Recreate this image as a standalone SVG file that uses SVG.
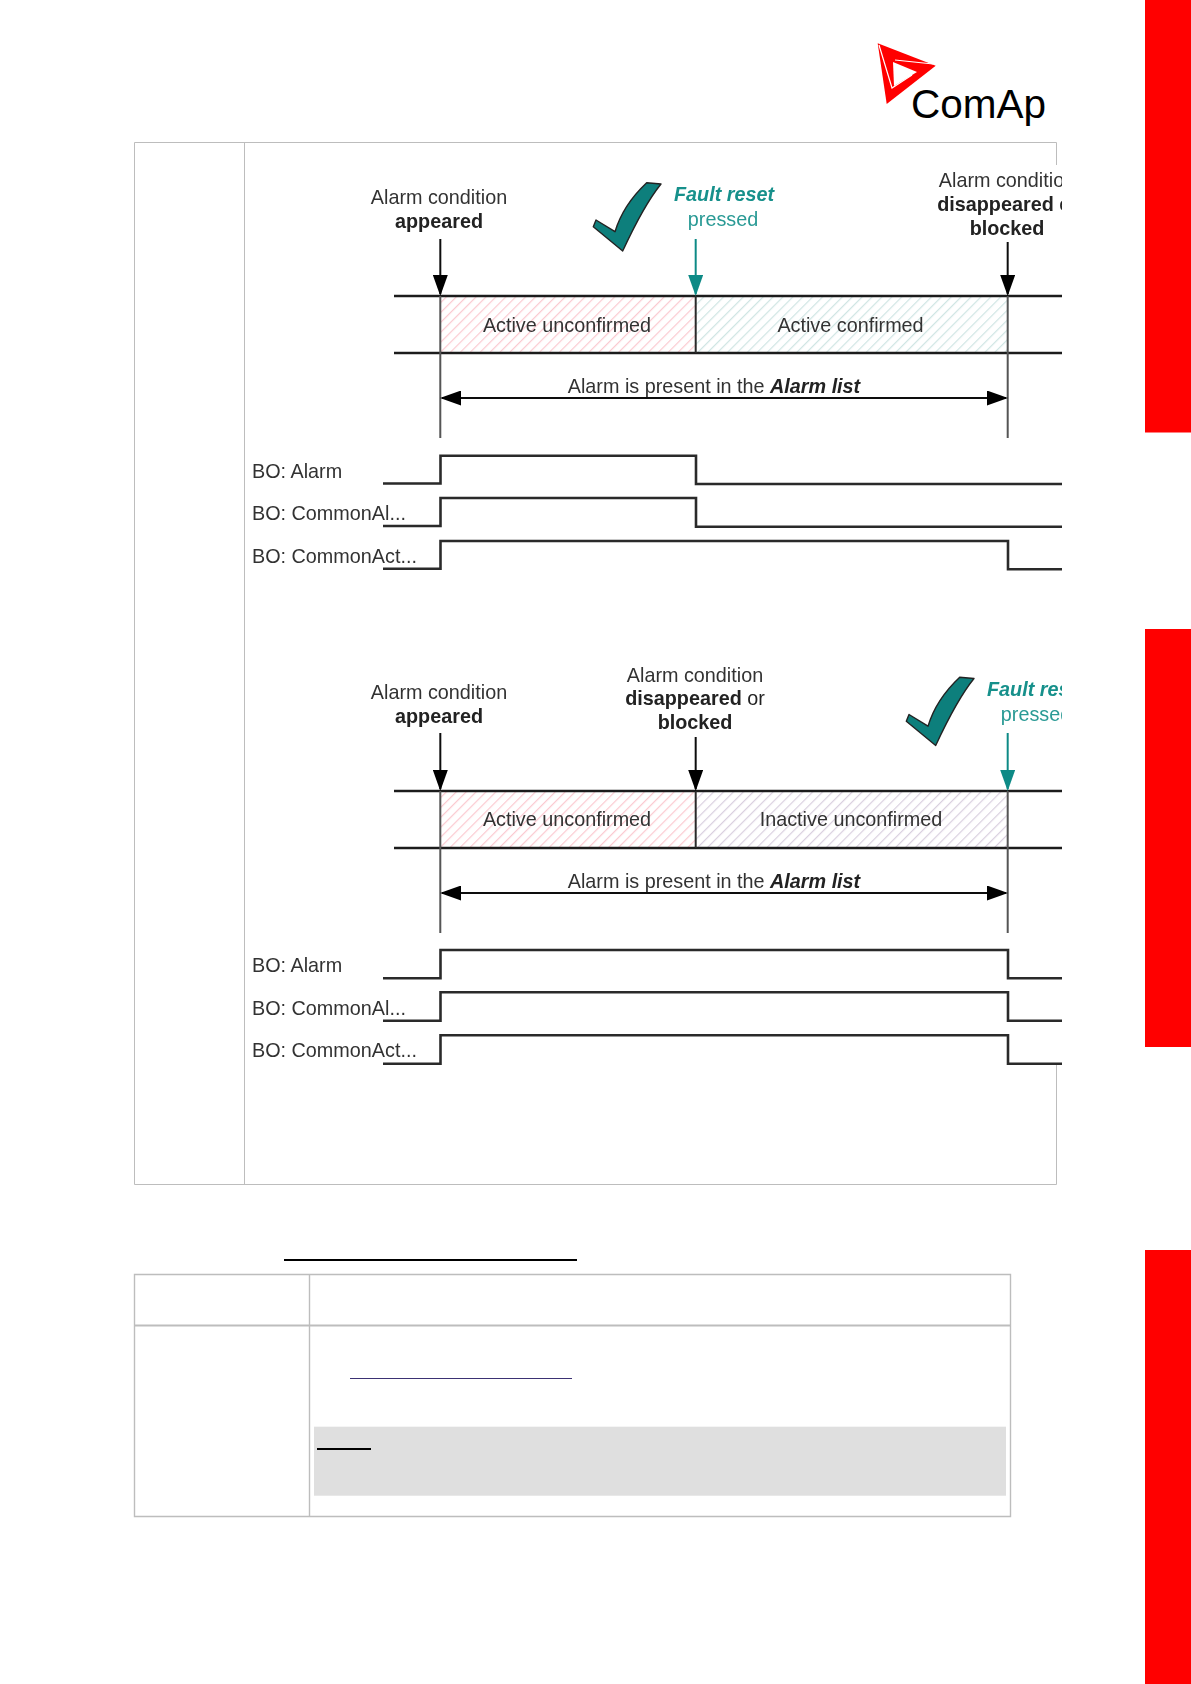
<svg xmlns="http://www.w3.org/2000/svg" width="1191" height="1684" viewBox="0 0 1191 1684">
<style>
.t{font-family:"Liberation Sans",Arial,sans-serif;font-size:19.8px;fill:#333;text-anchor:middle}
.l{text-anchor:start}
.b{font-weight:bold;fill:#222}
.bi{font-weight:bold;font-style:italic;fill:#222}
.tl{fill:#2a9a95}
.tb{font-weight:bold;font-style:italic;fill:#16908b}
.tab{fill:none;stroke:#bdbdbd;stroke-width:1}
.h{fill:none;stroke:#1c1c1c;stroke-width:2.6}
.g{fill:none;stroke:#555;stroke-width:2}
.d{fill:none;stroke:#2a2a2a;stroke-width:2}
.a{fill:none;stroke:#111;stroke-width:2;marker-end:url(#ab)}
.at{fill:none;stroke:#0f8a86;stroke-width:2;marker-end:url(#at)}
.da{fill:none;stroke:#111;stroke-width:2;marker-start:url(#ah);marker-end:url(#ah)}
.s{fill:none;stroke:#2a2a2a;stroke-width:2.6}
.red{fill:#f00}
.ck{fill:#0f7f7c;stroke:#222;stroke-width:1.4;stroke-linejoin:round}
</style>
<defs>
<marker id="ab" markerUnits="userSpaceOnUse" markerWidth="15" markerHeight="21" viewBox="0 0 15 21" refX="7.5" refY="19" orient="0"><path d="M0 0H15L7.5 21Z" fill="#000"/></marker>
<marker id="at" markerUnits="userSpaceOnUse" markerWidth="15" markerHeight="21" viewBox="0 0 15 21" refX="7.5" refY="19" orient="0"><path d="M0 0H15L7.5 21Z" fill="#0f8a86"/></marker>
<marker id="ah" markerUnits="userSpaceOnUse" markerWidth="21" markerHeight="15" viewBox="0 0 21 15" refX="19" refY="7.5" orient="auto-start-reverse"><path d="M0 0L21 7.5L0 15Z" fill="#000"/></marker>
<pattern id="hr" width="7" height="7" patternUnits="userSpaceOnUse" patternTransform="rotate(45)"><rect width="7" height="7" fill="#fff"/><rect width="1.2" height="7" fill="#fbc9d0"/></pattern>
<pattern id="ht" width="7" height="7" patternUnits="userSpaceOnUse" patternTransform="rotate(45)"><rect width="7" height="7" fill="#fff"/><rect width="1.2" height="7" fill="#cfe5e3"/></pattern>
<pattern id="hp" width="7" height="7" patternUnits="userSpaceOnUse" patternTransform="rotate(45)"><rect width="7" height="7" fill="#fff"/><rect width="1.2" height="7" fill="#d9cfdf"/></pattern>
<clipPath id="clip"><rect x="240" y="143" width="822" height="960"/></clipPath>
<filter id="soft" x="-2%" y="-2%" width="104%" height="104%"><feGaussianBlur stdDeviation="0.35"/></filter>
<path id="check" d="M646.7 182.7L661 184Q644 205 622.7 251L593.3 226.7L596 220L615 231.7Q623 205 646.7 182.7Z"/>
</defs>
<rect width="1191" height="1684" fill="#fff"/>
<g id="side-tabs">
<rect class="red" x="1145" y="0" width="46" height="432.5"/>
<rect class="red" x="1145" y="629" width="46" height="418"/>
<rect class="red" x="1145" y="1250" width="46" height="434"/>
</g>
<g id="logo">
<path d="M877.7 43.3L935.7 65.7L886.7 104Z" fill="#f00"/>
<path d="M893 62L917 72L894 86Z" fill="#fff"/>
<path d="M879 45L892 88L912 75M895 60L933 64" fill="none" stroke="#fff" stroke-width="1.2"/>
<text x="911" y="118" font-family="'Liberation Sans',Arial,sans-serif" font-size="40.5" fill="#000">ComAp</text>
</g>
<g id="table-top">
<path class="tab" d="M1056.5 165V142.5H134.5V1184.5H1056.5V1065M244.5 142.5V1184.5"/>
</g>
<g id="table-bottom">
<rect x="314" y="1426.7" width="692" height="69" fill="#dfdfdf"/>
<path d="M134.5 1274.5H1010.5V1516.5H134.5ZM309.5 1274.5V1516.5" fill="none" stroke="#bdbdbd" stroke-width="1.4"/>
<path d="M134.5 1325.5H1010.5" stroke="#bdbdbd" stroke-width="2"/>
<rect x="284" y="1259" width="293" height="2" fill="#000"/>
<rect x="350" y="1378" width="222" height="1" fill="#3b3173"/>
<rect x="317" y="1448" width="54" height="2" fill="#000"/>
</g>
<g clip-path="url(#clip)" filter="url(#soft)">
<g id="diagram-1">
<g id="state-active-unconfirmed-1"><rect x="440.5" y="296" width="255" height="57" fill="url(#hr)"/><text class="t" x="567" y="331.7">Active unconfirmed</text></g>
<g id="state-active-confirmed"><rect x="695.5" y="296" width="312" height="57" fill="url(#ht)"/><text class="t" x="850.5" y="331.7">Active confirmed</text></g>
<g id="label-appeared-1"><text class="t" x="439" y="204">Alarm condition</text><text class="t b" x="439" y="228">appeared</text></g>
<g id="label-reset-1"><text class="t tb" x="724" y="201">Fault reset</text><text class="t tl" x="723" y="226">pressed</text><use href="#check" class="ck"/></g>
<g id="label-disappeared-1"><text class="t" x="1007" y="186.7">Alarm condition</text><text class="t b" x="1007" y="210.7">disappeared <tspan font-weight="normal">or</tspan></text><text class="t b" x="1007" y="235">blocked</text></g>
<g id="label-list-1"><text class="t" x="714" y="393">Alarm is present in the <tspan class="bi">Alarm list</tspan></text></g>
<g id="signals-1-labels"><text class="t l" x="252" y="478">BO: Alarm</text><text class="t l" x="252" y="520">BO: CommonAl...</text><text class="t l" x="252" y="563">BO: CommonAct...</text></g>
<g id="connectors-1">
<path class="h" d="M394 296H1062M394 353H1062"/>
<path class="d" d="M695.7 296V353"/>
<path class="g" d="M440.3 296V438M1007.7 296V438"/>
<path class="a" d="M440.3 239V294"/>
<path class="at" d="M695.7 239V294"/>
<path class="a" d="M1007.7 242V294"/>
<path class="da" d="M442 398H1006"/>
<path class="s" d="M383 483.5H440.5V455.7H696V484H1062"/>
<path class="s" d="M383 526H440.5V498H696V526.7H1062"/>
<path class="s" d="M383 568.7H440.5V541H1008V569.3H1062"/>
</g>
</g>
<g id="diagram-2">
<g id="state-active-unconfirmed-2"><rect x="440.5" y="791" width="255" height="57" fill="url(#hr)"/><text class="t" x="567" y="825.7">Active unconfirmed</text></g>
<g id="state-inactive-unconfirmed"><rect x="695.5" y="791" width="312" height="57" fill="url(#hp)"/><text class="t" x="851" y="825.7">Inactive unconfirmed</text></g>
<g id="label-appeared-2"><text class="t" x="439" y="699">Alarm condition</text><text class="t b" x="439" y="723">appeared</text></g>
<g id="label-disappeared-2"><text class="t" x="695" y="681.5">Alarm condition</text><text class="t b" x="695" y="705">disappeared <tspan font-weight="normal">or</tspan></text><text class="t b" x="695" y="729">blocked</text></g>
<g id="label-reset-2"><text class="t tb" x="1037" y="696">Fault reset</text><text class="t tl" x="1036" y="721">pressed</text><use href="#check" class="ck" transform="translate(313 494.5)"/></g>
<g id="label-list-2"><text class="t" x="714" y="888">Alarm is present in the <tspan class="bi">Alarm list</tspan></text></g>
<g id="signals-2-labels"><text class="t l" x="252" y="971.7">BO: Alarm</text><text class="t l" x="252" y="1015">BO: CommonAl...</text><text class="t l" x="252" y="1057">BO: CommonAct...</text></g>
<g id="connectors-2">
<path class="h" d="M394 791H1062M394 848H1062"/>
<path class="d" d="M695.7 791V848"/>
<path class="g" d="M440.3 791V933M1007.7 791V933"/>
<path class="a" d="M440.3 733V789"/>
<path class="a" d="M695.7 737V789"/>
<path class="at" d="M1007.7 733V789"/>
<path class="da" d="M442 893H1006"/>
<path class="s" d="M383 978.3H440.5V950H1008V978.3H1062"/>
<path class="s" d="M383 1020.7H440.5V992.3H1008V1020.7H1062"/>
<path class="s" d="M383 1063.7H440.5V1035.3H1008V1063.7H1062"/>
</g>
</g>
</g>
</svg>
